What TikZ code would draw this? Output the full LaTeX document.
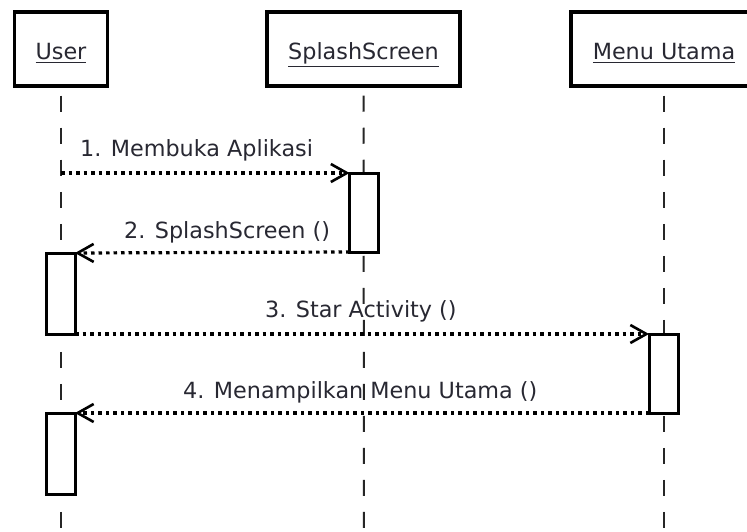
\documentclass[tikz,border=0pt]{standalone}
\usepackage{fontspec}
\setmainfont{DejaVu Sans}
\usetikzlibrary{arrows.meta}
\definecolor{txt}{RGB}{40,40,50}
\tikzset{
  objbox/.style={draw=black, line width=3.5pt, fill=white, minimum height=74pt, inner sep=0pt},
  actbox/.style={draw=black, line width=3pt, fill=white, minimum width=29pt, inner sep=0pt, outer sep=0pt},
  lifeline/.style={draw=black!85, line width=2pt, dash pattern=on 16pt off 16pt, dash phase=-8pt},
  msg/.style={draw=black, line width=3.2pt, dash pattern=on 3.5pt off 4pt, -{Straight Barb[length=16pt,width=18pt,line width=2.6pt]}},
  lbl/.style={anchor=base west, inner sep=0pt, text=txt, font=\fontsize{22.3}{26}\selectfont},
  ttl/.style={text=txt, font=\fontsize{22.3}{26}\selectfont}
}
\begin{document}
\begin{tikzpicture}[x=1pt,y=-1pt]
\useasboundingbox (0,0) rectangle (747,532);
\fill[white] (0,0) rectangle (747,532);
% object boxes
\node[objbox, minimum width=93pt] (user) at (61,49) {};
\node[objbox, minimum width=193pt] (splash) at (363.5,49) {};
\node[objbox, minimum width=186pt] (menu) at (664,49) {};
\node[ttl, anchor=base] (tuser) at (61,60) {\underline{User}};
\node[ttl, anchor=base] (tsplash) at (363.5,60) {\underline{SplashScreen}};
\node[ttl, anchor=base] (tmenu) at (664,60) {\underline{Menu Utama}};
% lifelines
\coordinate (uend) at (61,540);
\coordinate (send) at (364,540);
\coordinate (mend) at (664,540);
\draw[lifeline] (user.south) -- (uend);
\draw[lifeline] (splash.south) -- (send);
\draw[lifeline] (menu.south) -- (mend);
% activations
\node[actbox, minimum height=79pt] (act1) at (364,212.5) {};
\node[actbox, minimum height=81pt] (act2) at (60.5,293.5) {};
\node[actbox, minimum height=79pt] (act3) at (663.5,373.5) {};
\node[actbox, minimum height=81pt] (act4) at (60.5,453.5) {};
% messages
\draw[msg] (user.south |- act1.north west) -- (act1.north west);
\draw[msg] (act1.south west) -- (act2.north east);
\draw[msg] (act2.south east) -- (act3.north west);
\draw[msg] (act3.south west) -- (act4.north east);
% labels
\node[lbl] (l1) at (80,157) {1. Membuka Aplikasi};
\node[lbl] (l2) at (124,238) {2. SplashScreen ()};
\node[lbl] (l3) at (265,317) {3. Star Activity ()};
\node[lbl] (l4) at (183,398) {4. Menampilkan Menu Utama ()};
\end{tikzpicture}
\end{document}
